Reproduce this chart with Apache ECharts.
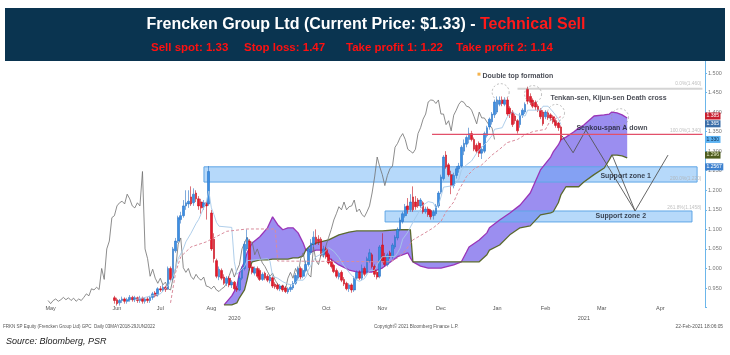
<!DOCTYPE html>
<html>
<head>
<meta charset="utf-8">
<script src="https://cdn.jsdelivr.net/npm/echarts@6.0.0/dist/echarts.min.js"></script>
<style>
  html, body { margin: 0; padding: 0; background: #fff; }
  #chart { width: 730px; height: 355px; }
</style>
</head>
<body>
<div id="chart"></div>
<script>
// trading-day index of the first candle; x axis runs in trading days
const FIRST_DAY = 42;

const opens = [
  .925,.920,.912,.918,.922,.916,.920,.926,.920,.925,
  .918,.924,.916,.922,.918,.926,.937,.932,.948,.945,
  .952,.948,1.000,.975,1.045,1.070,1.125,1.135,1.160,1.165,
  1.183,1.168,1.193,1.178,1.170,1.158,1.168,1.165,1.142,1.075,
  1.020,.978,.995,.978,.962,.975,.958,.965,.950,.945,
  .975,1.000,1.050,1.070,1.004,.988,1.000,.995,.972,.988,
  .980,.968,.976,.960,.958,.948,.955,.950,.940,.946,
  .950,.962,.975,1.000,.980,.995,1.010,1.040,1.062,1.080,
  1.075,1.075,1.035,1.050,1.035,1.018,1.008,.995,.978,.990,
  .972,.962,.948,.958,.945,.975,.990,.975,1.000,.990,
  1.020,1.035,1.005,.990,.980,1.060,1.030,1.010,1.040,1.030,
  1.055,1.078,1.100,1.120,1.135,1.160,1.150,1.183,1.170,1.175,
  1.160,1.168,1.145,1.152,1.148,1.135,1.140,1.160,1.195,1.230,
  1.290,1.265,1.240,1.212,1.238,1.255,1.262,1.300,1.318,1.330,
  1.345,1.330,1.315,1.320,1.295,1.300,1.340,1.362,1.375,1.393,
  1.400,1.420,1.431,1.420,1.431,1.410,1.400,1.390,1.378,1.368,
  1.392,1.400,1.458,1.440,1.430,1.425,1.415,1.405,1.400,1.388,
  1.398,1.393,1.388,1.378,1.372,1.362
];
const closes = [
  .918,.910,.918,.922,.916,.920,.926,.920,.925,.918,
  .924,.916,.922,.918,.926,.935,.930,.948,.945,.952,
  .946,1.000,.972,1.050,1.070,1.130,1.135,1.160,1.168,1.172,
  1.165,1.190,1.178,1.160,1.155,1.168,1.160,1.248,1.050,1.025,
  .980,.998,.975,.962,.975,.958,.965,.948,.945,.975,
  1.000,1.062,1.078,1.002,.990,1.000,.980,.972,.985,.975,
  .970,.978,.955,.953,.948,.955,.945,.941,.948,.952,
  .962,.982,1.000,.978,.995,1.010,1.050,1.065,1.080,1.065,
  1.068,1.035,1.050,1.030,1.014,1.005,.992,.980,.988,.970,
  .960,.948,.958,.945,.975,.990,.975,1.000,.985,1.025,
  1.040,1.005,.985,.978,1.055,1.020,1.010,1.035,1.030,1.060,
  1.080,1.100,1.124,1.140,1.158,1.150,1.170,1.150,1.158,1.160,
  1.175,1.145,1.152,1.138,1.132,1.145,1.160,1.193,1.234,1.285,
  1.260,1.240,1.212,1.238,1.255,1.262,1.310,1.320,1.335,1.345,
  1.330,1.305,1.300,1.295,1.305,1.345,1.360,1.382,1.395,1.426,
  1.431,1.430,1.422,1.431,1.395,1.395,1.368,1.378,1.352,1.392,
  1.405,1.420,1.428,1.425,1.415,1.413,1.405,1.388,1.370,1.400,
  1.385,1.385,1.375,1.366,1.360,1.330
];
const lows = [
  .910,.905,.905,.912,.910,.910,.915,.915,.914,.912,
  .912,.910,.910,.912,.912,.920,.926,.928,.940,.940,
  .940,.945,.968,.970,1.040,1.065,1.115,1.130,1.150,1.155,
  1.160,1.160,1.170,1.150,1.140,1.150,1.125,1.160,1.045,1.015,
  .975,.970,.970,.958,.955,.952,.950,.944,.940,.942,
  .970,.995,1.045,.995,.985,.982,.975,.968,.968,.970,
  .965,.962,.950,.948,.944,.942,.940,.937,.935,.940,
  .945,.958,.970,.972,.975,.990,1.005,1.035,1.055,1.060,
  1.060,1.030,1.028,1.025,1.010,1.000,.988,.975,.972,.965,
  .955,.944,.940,.938,.940,.970,.970,.970,.980,.985,
  1.015,1.000,.978,.972,.975,1.015,1.005,1.005,1.025,1.025,
  1.050,1.072,1.095,1.115,1.130,1.140,1.145,1.145,1.150,1.155,
  1.155,1.140,1.140,1.132,1.125,1.125,1.135,1.155,1.190,1.225,
  1.255,1.235,1.190,1.205,1.230,1.245,1.258,1.290,1.310,1.320,
  1.325,1.300,1.295,1.285,1.280,1.295,1.335,1.355,1.368,1.385,
  1.395,1.415,1.415,1.415,1.390,1.385,1.362,1.370,1.345,1.360,
  1.385,1.395,1.420,1.418,1.410,1.405,1.400,1.382,1.365,1.382,
  1.380,1.378,1.370,1.360,1.352,1.325
];
const highs = [
  .930,.925,.922,.928,.926,.925,.932,.930,.930,.928,
  .930,.928,.926,.927,.930,.940,.942,.952,.955,.958,
  .956,1.005,1.005,1.055,1.078,1.135,1.145,1.175,1.200,1.200,
  1.210,1.205,1.200,1.185,1.178,1.175,1.172,1.262,1.150,1.090,
  1.025,1.005,1.000,.985,.980,.980,.970,.968,.955,.980,
  1.005,1.070,1.100,1.075,1.010,1.005,1.005,1.000,.990,.992,
  .985,.982,.980,.965,.962,.960,.958,.955,.952,.958,
  .968,.988,1.005,1.005,1.000,1.020,1.055,1.075,1.095,1.100,
  1.085,1.080,1.058,1.055,1.040,1.025,1.012,1.000,.992,.995,
  .978,.966,.962,.962,.980,.995,.995,1.010,1.005,1.030,
  1.050,1.040,1.010,.995,1.060,1.090,1.040,1.040,1.045,1.065,
  1.085,1.105,1.130,1.145,1.165,1.180,1.190,1.210,1.185,1.180,
  1.180,1.172,1.158,1.158,1.152,1.150,1.165,1.198,1.240,1.290,
  1.300,1.270,1.250,1.245,1.262,1.270,1.315,1.330,1.340,1.360,
  1.352,1.335,1.320,1.325,1.312,1.350,1.365,1.386,1.400,1.432,
  1.440,1.440,1.440,1.438,1.438,1.415,1.405,1.395,1.382,1.398,
  1.410,1.425,1.465,1.448,1.435,1.430,1.420,1.410,1.405,1.405,
  1.402,1.397,1.392,1.382,1.375,1.366
];

// Ichimoku lines
const tenkanDays = [50,60,63,65,67,69,70,72,74,75,76,78,79,80,81,82,83,88,89,90,93,94,102,103,104,106,108,110,112,114,116,117,118,119,120,121,124,126,128,130,132,134,136,138,140,142,144,145,147,152,153,154,155,157,159,161,163,165,167,168,169,170,171,175,177,178,180,182,184,186,188,190,191,194,196,198,200,203,204,209,210,212,214,216,217];
const tenkanVals = [0.92,0.935,0.955,0.98,1.025,1.05,1.068,1.09,1.115,1.125,1.14,1.17,1.198,1.155,1.138,1.118,1.108,1.105,1.017,0.985,1.005,1.02,1.025,1.018,0.98,0.975,0.966,0.96,0.958,0.97,0.97,0.978,0.995,1.008,1.02,1.03,1.04,1.053,1.044,1.028,1.007,0.99,0.975,0.967,0.974,0.994,0.995,1.01,1.03,1.031,1.04,1.052,1.075,1.093,1.118,1.141,1.162,1.171,1.168,1.155,1.162,1.183,1.208,1.212,1.228,1.252,1.265,1.275,1.295,1.31,1.323,1.34,1.356,1.36,1.388,1.40,1.393,1.39,1.405,1.405,1.415,1.415,1.40,1.383,1.368];
const kijunDays = [64,66,68,72,78,80,86,94,105,106,150,153,156,159,163,167,170,172,175,177,180,183,186,190,193,196,200,203,206,211,213,217];
const kijunVals = [0.912,0.99,1.03,1.055,1.068,1.075,1.095,1.101,1.101,1.019,1.017,1.027,1.045,1.073,1.088,1.104,1.12,1.145,1.17,1.20,1.235,1.255,1.265,1.29,1.305,1.322,1.33,1.342,1.35,1.356,1.38,1.388];
const cloudDays = [85,88,90,91,93,94,95,96,99,102,104,106,108,110,112,114,116,117,119,121,124,126,130,134,137,143,147,153,157,158,159,162,165,170,175,178,180,181,185,188,189,193,197,201,205,209,213,214,216,217,219,222,224,226,230,234,236,237,239,241,243];
const spanA = [0.907,0.930,0.953,0.989,1.017,1.040,1.053,1.065,1.081,1.104,1.132,1.112,1.099,1.104,1.104,1.091,1.065,1.047,1.042,1.047,1.047,1.027,1.009,0.996,0.991,0.991,1.001,1.030,1.040,1.027,1.017,1.006,1.001,1.001,1.009,1.017,1.042,1.055,1.073,1.091,1.104,1.124,1.142,1.162,1.193,1.252,1.285,1.298,1.316,1.329,1.336,1.349,1.359,1.367,1.390,1.393,1.395,1.400,1.398,1.393,1.385];
const spanB = [0.907,0.907,0.912,0.925,0.945,0.971,1.001,1.017,1.022,1.022,1.024,1.024,1.024,1.024,1.027,1.027,1.032,1.047,1.060,1.065,1.070,1.073,1.086,1.093,1.096,1.096,1.096,1.099,1.099,1.099,1.017,1.017,1.017,1.017,1.017,1.017,1.017,1.017,1.017,1.035,1.047,1.060,1.086,1.104,1.109,1.137,1.142,1.145,1.168,1.188,1.209,1.209,1.209,1.221,1.240,1.257,1.278,1.290,1.290,1.288,1.283];
const CHIKOU_SHIFT = 26;

// axis labels
const monthDays = [17,43,60,80,103,125,147,170,192,211,233,256];
const monthNames = ['May','Jun','Jul','Aug','Sep','Oct','Nov','Dec','Jan','Feb','Mar','Apr'];
const yearDays = [89,226];
const yearNames = ['2020','2021'];

// drawn annotations
const zoneDays = [[77.1,270.4],[148.1,268.4]];
const zoneVals = [[1.221,1.260],[1.119,1.147]];
const sellLine = [[166.5,1.343],[272.5,1.343]];
const fibTopLine = [[200,1.46],[272.5,1.46]];
const fibTexts = ['0.0%(1.460)','100.0%(1.340)','200.0%(1.220)','261.8%(1.1458)'];
const fibVals = [1.472,1.353,1.230,1.155];
const waveDays = [217.5,221.8,226.8,246.1,259];
const waveVals = [1.339,1.296,1.354,1.147,1.290];
const wave2Days = [237.1,246.1];
const wave2Vals = [1.290,1.147];
const circleDays = [193.4,206.1,215.1,240.2];
const circleVals = [1.451,1.446,1.398,1.387];
const noteTexts = ['Double top formation','Tenkan-sen, Kijun-sen Death cross','Senkou-span A down','Support zone 1','Support zone 2'];
const noteDays = [186.1,212.7,222.9,232.3,230.4];
const noteVals = [1.492,1.436,1.359,1.237,1.134];
const tagTexts = ['1.385','1.365','1.330','1.296','1.2567'];
const tagLevels = [1.387,1.371,1.331,1.290,1.257];
const tagColors = ['#c8202f','#3b6ea8','#5db3f2','#4d5c1e','#3f82cf'];
const tagTextColors = ['#fff','#fff','#0b2b4f','#e8ecc8','#fff'];

const pairs = (xs, ys) => xs.map((x, i) => [x, ys[i]]);

const chart = echarts.init(document.getElementById('chart'));

const option = {
  animation: false,
  textStyle: { fontFamily: 'Liberation Sans, Arial, sans-serif' },
  grid: { left: 6, right: 25, top: 53.45, bottom: 47.45 },
  xAxis: [
    {
      type: 'value', min: -0.5, max: 273.5,
      axisLine: { show: false }, axisTick: { show: false }, splitLine: { show: false },
      axisLabel: {
        customValues: monthDays, margin: -2, fontSize: 5.5, color: '#555',
        formatter: (v) => monthNames[monthDays.indexOf(v)] || ''
      }
    },
    {
      type: 'value', min: -0.5, max: 273.5, position: 'bottom', offset: 10,
      axisLine: { show: false }, axisTick: { show: false }, splitLine: { show: false },
      axisLabel: {
        customValues: yearDays, margin: -2, fontSize: 5.5, color: '#555',
        formatter: (v) => yearNames[yearDays.indexOf(v)] || ''
      }
    }
  ],
  yAxis: {
    type: 'value', position: 'right', min: 0.9, max: 1.55, interval: 0.05,
    splitLine: { show: false },
    axisLine: { show: true, onZero: false, lineStyle: { color: '#6cb6ea', width: 1 } },
    axisTick: { show: true, length: 2, lineStyle: { color: '#6cb6ea' } },
    axisLabel: {
      fontSize: 5.5, color: '#777', margin: 3,
      formatter: (v) => (v < 0.94 || v > 1.51) ? '' : v.toFixed(3)
    }
  },
  graphic: [
    { type: 'rect', z: 100, shape: { x: 5, y: 8, width: 720, height: 53 }, style: { fill: '#0a3450' } },
    {
      type: 'text', z: 101, x: 366, y: 25,
      style: {
        text: '{w|Frencken Group Ltd (Current Price: $1.33) - }{r|Technical Sell}',
        align: 'center', verticalAlign: 'middle',
        rich: {
          w: { fill: '#ffffff', fontSize: 16, fontWeight: 'bold', fontFamily: 'Liberation Sans' },
          r: { fill: '#ff1a1a', fontSize: 16, fontWeight: 'bold', fontFamily: 'Liberation Sans' }
        }
      }
    },
    { type: 'text', z: 101, x: 151, y: 48, style: { text: 'Sell spot: 1.33', fill: '#ff1010', fontSize: 11.5, fontWeight: 'bold', fontFamily: 'Liberation Sans', verticalAlign: 'middle' } },
    { type: 'text', z: 101, x: 244, y: 48, style: { text: 'Stop loss: 1.47', fill: '#ff1010', fontSize: 11.5, fontWeight: 'bold', fontFamily: 'Liberation Sans', verticalAlign: 'middle' } },
    { type: 'text', z: 101, x: 346, y: 48, style: { text: 'Take profit 1: 1.22', fill: '#ff1010', fontSize: 11.5, fontWeight: 'bold', fontFamily: 'Liberation Sans', verticalAlign: 'middle' } },
    { type: 'text', z: 101, x: 456, y: 48, style: { text: 'Take profit 2: 1.14', fill: '#ff1010', fontSize: 11.5, fontWeight: 'bold', fontFamily: 'Liberation Sans', verticalAlign: 'middle' } },
    { type: 'text', x: 3, y: 327, style: { text: 'FRKN SP Equity (Frencken Group Ltd) GPC  Daily 03MAY2018-29JUN2022', fill: '#555', fontSize: 4.5, verticalAlign: 'middle' } },
    { type: 'text', x: 374, y: 327, style: { text: 'Copyright\u00a9 2021 Bloomberg Finance L.P.', fill: '#555', fontSize: 4.6, verticalAlign: 'middle' } },
    { type: 'text', x: 723, y: 327, style: { text: '22-Feb-2021 18:06:05', fill: '#555', fontSize: 4.8, align: 'right', verticalAlign: 'middle' } },
    { type: 'text', x: 6, y: 341, style: { text: 'Source: Bloomberg, PSR', fill: '#222', fontSize: 9, fontStyle: 'italic', fontFamily: 'Liberation Sans', verticalAlign: 'middle' } }
  ],
  series: [
    {
      // Kumo cloud between span A and span B
      type: 'custom', z: 1, silent: true,
      data: [[cloudDays[0], spanA[0]]],
      renderItem: (params, api) => {
        const pts = cloudDays.map((d, i) => api.coord([d, spanA[i]]));
        for (let i = cloudDays.length - 1; i >= 0; i--) pts.push(api.coord([cloudDays[i], spanB[i]]));
        return { type: 'polygon', shape: { points: pts }, style: { fill: '#9b8ef0' } };
      }
    },
    {
      type: 'line', z: 2, data: [], silent: true,
      markArea: {
        z: 2, silent: true,
        itemStyle: { color: 'rgba(110,180,245,0.5)', borderColor: '#5fa6e6', borderWidth: 1 },
        data: zoneDays.map((d, i) => [{ coord: [d[0], zoneVals[i][0]] }, { coord: [d[1], zoneVals[i][1]] }])
      }
    },
    { type: 'line', z: 3, data: pairs(cloudDays, spanA), symbol: 'none', lineStyle: { color: '#9a35b8', width: 1.3 } },
    { type: 'line', z: 3, data: pairs(cloudDays, spanB), symbol: 'none', lineStyle: { color: '#5b6a2e', width: 1.3 } },
    {
      // lagging span: closes moved back 26 days
      type: 'line', z: 3, symbol: 'none',
      data: closes.map((c, i) => [FIRST_DAY + i - CHIKOU_SHIFT, c]),
      lineStyle: { color: '#707070', width: 0.8 }
    },
    { type: 'line', z: 3, data: fibTopLine, symbol: 'none', lineStyle: { color: '#d4d4d4', width: 2 } },
    {
      type: 'line', z: 9, data: sellLine, symbol: 'none', lineStyle: { color: '#e2506a', width: 1.4 },
      markLine: {
        z: 9, silent: true, symbol: 'none',
        lineStyle: { color: 'rgba(0,0,0,0)', width: 0 },
        data: tagLevels.map((v, i) => ({
          yAxis: v,
          label: {
            show: true, position: 'end', distance: 0, opacity: 1,
            formatter: tagTexts[i], fontSize: 5, padding: [1, 1.5],
            backgroundColor: tagColors[i], color: tagTextColors[i]
          }
        }))
      }
    },
    {
      type: 'candlestick', z: 5, barWidth: 2.2,
      data: opens.map((o, i) => [FIRST_DAY + i, o, closes[i], lows[i], highs[i]]),
      itemStyle: { color: '#3a8fe6', color0: '#e8192c', borderColor: '#2a72c4', borderColor0: '#c4101e', borderWidth: 0.6 }
    },
    { type: 'line', z: 6, data: pairs(tenkanDays, tenkanVals), symbol: 'none', lineStyle: { color: '#a6c8e8', width: 0.9 } },
    { type: 'line', z: 6, data: pairs(kijunDays, kijunVals), symbol: 'none', lineStyle: { color: '#d98c9c', width: 1, type: [3, 2] } },
    { type: 'line', z: 7, data: pairs(waveDays, waveVals), symbol: 'none', lineStyle: { color: '#555', width: 0.9 } },
    { type: 'line', z: 7, data: pairs(wave2Days, wave2Vals), symbol: 'none', lineStyle: { color: '#555', width: 0.9 } },
    {
      type: 'scatter', z: 7, data: pairs(circleDays, circleVals), symbolSize: 17,
      itemStyle: { color: 'rgba(0,0,0,0)', borderColor: '#9a9a9a', borderWidth: 0.8, borderType: [2, 2] }
    },
    {
      type: 'scatter', z: 8, data: [[184.9, 1.497]], symbol: 'rect', symbolSize: 3,
      itemStyle: { color: '#f2a020' }
    },
    {
      type: 'scatter', z: 8, data: pairs(noteDays, noteVals), symbolSize: 1,
      itemStyle: { color: 'rgba(0,0,0,0)' },
      label: {
        show: true, position: 'right', distance: 0,
        formatter: (p) => noteTexts[p.dataIndex],
        fontSize: 7, fontWeight: 'bold', color: '#161a26'
      }
    },
    {
      type: 'scatter', z: 8, data: fibVals.map((v) => [272.3, v]), symbolSize: 1,
      itemStyle: { color: 'rgba(0,0,0,0)' },
      label: {
        show: true, position: 'left', distance: 0,
        formatter: (p) => fibTexts[p.dataIndex],
        fontSize: 4.8, color: '#b0b0b0'
      }
    }
  ]
};

chart.setOption(option);
</script>
</body>
</html>
